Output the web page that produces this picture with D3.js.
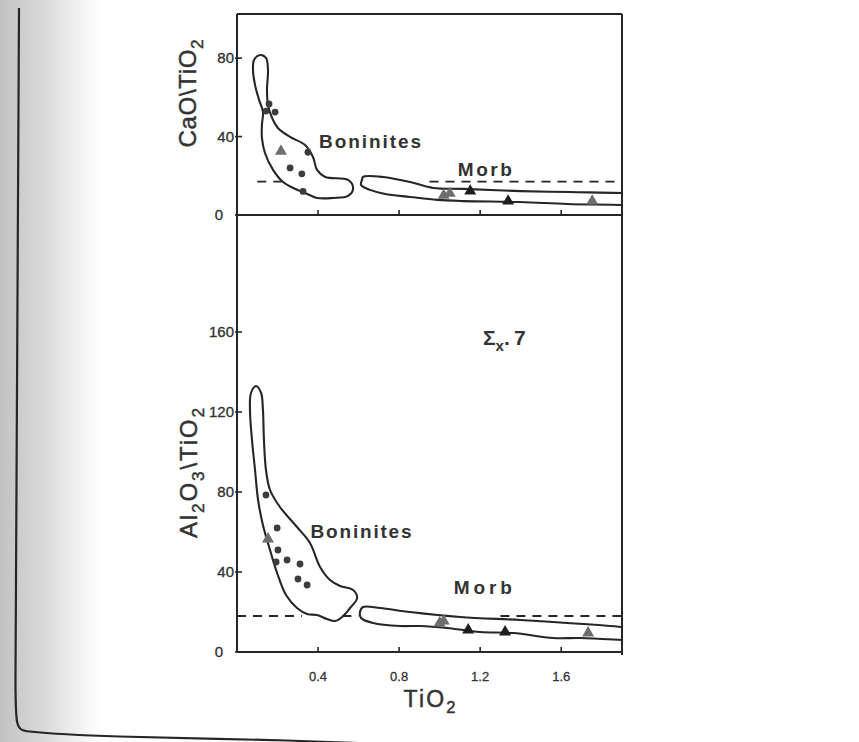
<!DOCTYPE html>
<html>
<head>
<meta charset="utf-8">
<script src="https://cdn.jsdelivr.net/npm/d3@7.9.0/dist/d3.min.js"></script>
<style>
  body { margin: 0; background: #fff; }
  svg { display: block; }
  text { font-family: "Liberation Sans", Arial, sans-serif; fill: #333; }
</style>
</head>
<body>
<svg id="chart" width="859" height="742"></svg>
<script>
// ---- data ----
const xTicks = [0.4, 0.8, 1.2, 1.6];
const xTickLabels = ['0.4', '0.8', '1.2', '1.6'];
const topYTicks = [0, 40, 80];
const botYTicks = [0, 40, 80, 120, 160];

// CaO/TiO2 panel
const topDotsX = [0.158, 0.143, 0.188, 0.262, 0.32, 0.35, 0.326];
const topDotsY = [56.6, 53, 52.5, 24, 21, 32, 12];
const topTriX = [0.217, 1.02, 1.05, 1.151, 1.338, 1.753];
const topTriY = [32, 9.5, 10.5, 11.7, 6.6, 6.6];
const topTriShade = ['g', 'g', 'g', 'k', 'k', 'g'];
const topDashY = 17;
const topDashSegs = [[0.10, 0.22], [0.95, 1.9]];
const topBoninField = [
  [0.114, 81.6], [0.084, 79.1], [0.079, 74.0], [0.089, 66.3], [0.109, 58.7],
  [0.128, 52.6], [0.123, 45.9], [0.123, 39.3], [0.138, 31.6], [0.178, 23.0],
  [0.227, 16.8], [0.277, 13.8], [0.336, 11.2], [0.395, 8.7], [0.474, 8.7],
  [0.548, 9.7], [0.573, 13.8], [0.548, 17.9], [0.435, 19.4], [0.395, 23.0],
  [0.375, 29.6], [0.336, 35.7], [0.262, 39.8], [0.202, 44.4], [0.173, 49.5],
  [0.153, 56.1], [0.148, 63.8], [0.153, 74.0], [0.143, 80.1]
];
const topMorbField = [
  [0.622, 19.4], [0.721, 19.4], [0.854, 16.8], [0.968, 13.8], [1.116, 13.3],
  [1.398, 12.2], [1.644, 11.7], [1.901, 11.2], [1.99, 10.7],
  [1.99, 4.6], [1.891, 5.1], [1.630, 5.6], [1.398, 6.6], [1.116, 7.1],
  [0.988, 7.7], [0.854, 9.2], [0.731, 10.7], [0.657, 12.8], [0.612, 15.3], [0.617, 17.9]
];

// Al2O3/TiO2 panel
const botDotsX = [0.143, 0.198, 0.202, 0.247, 0.193, 0.311, 0.301, 0.346];
const botDotsY = [78.5, 62, 51, 46, 45, 44, 36.5, 33.5];
const botTriX = [0.153, 1.0, 1.02, 1.141, 1.323, 1.733];
const botTriY = [56, 14, 15, 10.5, 9.5, 9];
const botTriShade = ['g', 'g', 'g', 'k', 'k', 'g'];
const botDashY = 18;
const botDashSegs = [[0.0, 0.32], [0.52, 0.6], [1.3, 1.9]];
const botBoninField = [
  [0.094, 133], [0.069, 129.5], [0.064, 121], [0.074, 106], [0.089, 91],
  [0.104, 76], [0.128, 63.5], [0.163, 51], [0.198, 39.5], [0.242, 28.5],
  [0.296, 22], [0.346, 19], [0.395, 18.5], [0.444, 16.5], [0.484, 15.5],
  [0.519, 17.5], [0.558, 22], [0.593, 27], [0.573, 31], [0.509, 33],
  [0.459, 36], [0.410, 42.5], [0.360, 54.5], [0.296, 62.5], [0.212, 72.5],
  [0.163, 81], [0.143, 91], [0.133, 106], [0.128, 121], [0.119, 129.5]
];
const botMorbField = [
  [0.622, 22.5], [0.706, 22], [0.854, 20], [1.101, 17.5], [1.398, 16],
  [1.630, 14.5], [1.901, 12.5], [1.99, 11.5],
  [1.99, 5.5], [1.901, 6], [1.694, 7], [1.560, 7], [1.363, 9.5], [1.2, 10],
  [1.037, 12], [0.904, 13], [0.805, 13], [0.672, 14.5], [0.612, 17], [0.607, 20]
];

// ---- layout ----
const svg = d3.select('#chart');
const left = 237, right = 622;
const x = d3.scaleLinear().domain([0, 1.9]).range([left, right]);
const yTop = d3.scaleLinear().domain([0, 102.5]).range([215, 14]);
const yBot = d3.scaleLinear().domain([0, 218.5]).range([652, 215]);
const ink = '#262626';

// scanned page: gray margin and hand-ruled border
const defs = svg.append('defs');
const grad = defs.append('linearGradient').attr('id', 'shade');
grad.append('stop').attr('offset', '0%').attr('stop-color', '#c2c2c2');
grad.append('stop').attr('offset', '45%').attr('stop-color', '#dadada');
grad.append('stop').attr('offset', '100%').attr('stop-color', '#ffffff');
svg.append('rect').attr('x', 0).attr('y', 0).attr('width', 100).attr('height', 742)
  .attr('fill', 'url(#shade)');
svg.append('path')
  .attr('d', d3.line().curve(d3.curveBasis)([[19, 8], [17, 400], [15, 728], [16, 731], [100, 737], [300, 740], [420, 746]]))
  .attr('fill', 'none').attr('stroke', ink).attr('stroke-width', 2.2);

// clip for each panel
defs.append('clipPath').attr('id', 'clipTop').append('rect')
  .attr('x', left).attr('y', 14).attr('width', right - left).attr('height', 201);
defs.append('clipPath').attr('id', 'clipBot').append('rect')
  .attr('x', left).attr('y', 215).attr('width', right - left).attr('height', 437);

// frames
const frame = svg.append('g').attr('stroke', ink).attr('stroke-width', 2).attr('fill', 'none');
frame.append('line').attr('x1', left).attr('x2', right).attr('y1', 14).attr('y2', 14);
frame.append('line').attr('x1', left).attr('x2', left).attr('y1', 14).attr('y2', 652);
frame.append('line').attr('x1', right).attr('x2', right).attr('y1', 14).attr('y2', 655);
frame.append('line').attr('x1', left).attr('x2', right).attr('y1', 215).attr('y2', 215);
frame.append('line').attr('x1', left).attr('x2', right).attr('y1', 652).attr('y2', 652);

function drawPanel(y, clipId, ticks, dots, tris, dashY, dashSegs, fields, labels) {
  const g = svg.append('g');
  const base = y.range()[0];

  // x ticks (pointing up into the panel)
  g.selectAll('.xt').data(xTicks).join('line')
    .attr('x1', d => x(d)).attr('x2', d => x(d))
    .attr('y1', base).attr('y2', base - 5)
    .attr('stroke', ink).attr('stroke-width', 1.6);

  // y ticks and labels
  g.selectAll('.yt').data(ticks).join('line')
    .attr('x1', left - 2).attr('x2', left + 5)
    .attr('y1', d => y(d)).attr('y2', d => y(d))
    .attr('stroke', ink).attr('stroke-width', 1.6);
  g.selectAll('.yl').data(ticks).join('text')
    .attr('x', d => d === 0 ? left - 14 : left - 3)
    .attr('y', d => y(d) + 5)
    .attr('text-anchor', 'end')
    .attr('font-size', 15)
    .attr('stroke', '#333').attr('stroke-width', 0.35)
    .text(d => d);

  const body = g.append('g').attr('clip-path', `url(#${clipId})`);

  // dashed reference line
  body.selectAll('.dash').data(dashSegs).join('line')
    .attr('x1', d => x(d[0])).attr('x2', d => x(d[1]))
    .attr('y1', y(dashY)).attr('y2', y(dashY))
    .attr('stroke', ink).attr('stroke-width', 1.8)
    .attr('stroke-dasharray', '9,7');

  // outlined fields
  const outline = d3.line().x(d => x(d[0])).y(d => y(d[1])).curve(d3.curveCatmullRomClosed.alpha(0.5));
  body.selectAll('.field').data(fields).join('path')
    .attr('d', d => outline(d))
    .attr('fill', 'none').attr('stroke', ink).attr('stroke-width', 2.1);

  // dots
  body.selectAll('.dot').data(dots.x.map((v, i) => [v, dots.y[i]])).join('circle')
    .attr('cx', d => x(d[0])).attr('cy', d => y(d[1])).attr('r', 3.4)
    .attr('fill', '#3c3c3c');

  // triangles
  const tri = d3.symbol().type(d3.symbolTriangle).size(62);
  body.selectAll('.tri').data(tris.x.map((v, i) => [v, tris.y[i], tris.shade[i]])).join('path')
    .attr('d', tri)
    .attr('transform', d => `translate(${x(d[0])},${y(d[1]) - 1})`)
    .attr('fill', d => d[2] === 'k' ? '#1e1e1e' : '#6e6e6e');

  // field labels
  g.selectAll('.flab').data(labels).join('text')
    .attr('x', d => x(d.x)).attr('y', d => y(d.y))
    .attr('font-size', 19).attr('font-weight', 'bold')
    .attr('fill', '#505050')
    .attr('textLength', d => d.len).attr('lengthAdjust', 'spacing')
    .text(d => d.text);
}

drawPanel(yTop, 'clipTop', topYTicks,
  { x: topDotsX, y: topDotsY },
  { x: topTriX, y: topTriY, shade: topTriShade },
  topDashY, topDashSegs, [topBoninField, topMorbField],
  [{ text: 'Boninites', x: 0.405, y: 34.2, len: 102 }, { text: 'Morb', x: 1.09, y: 19.9, len: 54 }]);

drawPanel(yBot, 'clipBot', botYTicks,
  { x: botDotsX, y: botDotsY },
  { x: botTriX, y: botTriY, shade: botTriShade },
  botDashY, botDashSegs, [botBoninField, botMorbField],
  [{ text: 'Boninites', x: 0.363, y: 57, len: 101 }, { text: 'Morb', x: 1.07, y: 29, len: 58 }]);

// x tick labels below the lower panel
svg.selectAll('.xl').data(xTicks).join('text')
  .attr('x', d => x(d)).attr('y', 681)
  .attr('text-anchor', 'middle').attr('font-size', 13)
  .attr('stroke', '#333').attr('stroke-width', 0.3)
  .text((d, i) => xTickLabels[i]);

// text with subscripts
function subText(t, parts, size) {
  parts.forEach(([s, sub], i) => {
    const prevSub = i > 0 && parts[i - 1][1];
    t.append('tspan')
      .attr('font-size', sub ? size * 0.72 : size)
      .attr('dy', sub ? size * 0.28 : (prevSub ? -size * 0.28 : 0))
      .text(s);
  });
}

const xl = svg.append('text').attr('x', x(0.95)).attr('y', 707)
  .attr('text-anchor', 'middle').attr('textLength', 52).attr('lengthAdjust', 'spacing')
  .attr('stroke', '#333').attr('stroke-width', 0.45);
subText(xl, [['TiO', false], ['2', true]], 23);

const yl1 = svg.append('text').attr('transform', `translate(196,${yTop(62)}) rotate(-90)`)
  .attr('text-anchor', 'middle').attr('textLength', 108).attr('lengthAdjust', 'spacing')
  .attr('stroke', '#333').attr('stroke-width', 0.45);
subText(yl1, [['CaO\\TiO', false], ['2', true]], 24);

const yl2 = svg.append('text').attr('transform', `translate(197,${yBot(89.5)}) rotate(-90)`)
  .attr('text-anchor', 'middle').attr('textLength', 130).attr('lengthAdjust', 'spacing')
  .attr('stroke', '#333').attr('stroke-width', 0.45);
subText(yl2, [['Al', false], ['2', true], ['O', false], ['3', true], ['\\TiO', false], ['2', true]], 24);

// figure tag
const tag = svg.append('text').attr('x', x(1.214)).attr('y', yBot(153.5))
  .attr('font-weight', 'bold').attr('fill', '#2a2a2a');
subText(tag, [['\u03A3', false], ['x', true], ['.', false], ['\u2009', false], ['7', false]], 21);
</script>
</body>
</html>
